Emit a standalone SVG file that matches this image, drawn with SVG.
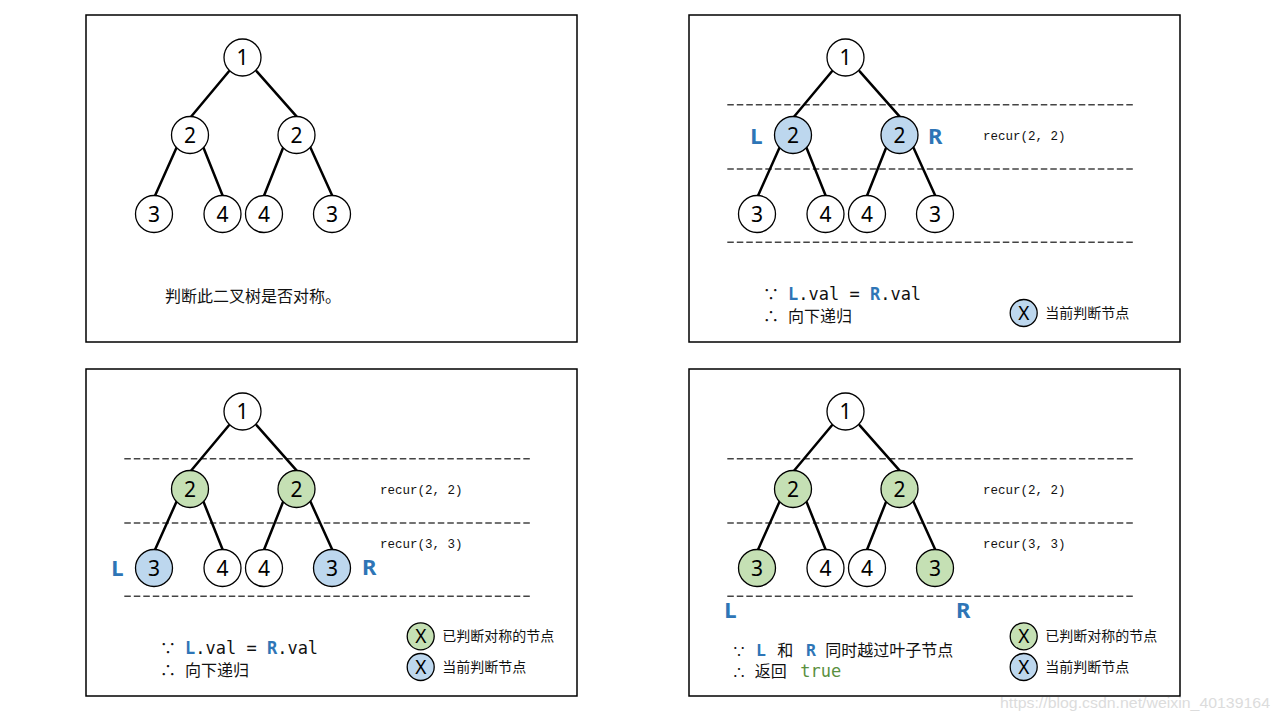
<svg xmlns="http://www.w3.org/2000/svg" width="1280" height="720" viewBox="0 0 1280 720">
<style>
.panel{fill:#fff;stroke:#000;stroke-width:1.5}
.edge{stroke:#000;stroke-width:2.5;stroke-linecap:round}
.dash{stroke:#444;stroke-width:1.5;stroke-dasharray:6.5 3}
.nd{stroke:#000;stroke-width:1.3}
.w{fill:#fff}.b{fill:#BDD7EE}.g{fill:#C5E0B4}
.num{font-family:"Noto Sans","Open Sans",sans-serif;font-size:21px;fill:#000;text-anchor:middle}
.lr{font-family:"Noto Sans","Open Sans",sans-serif;font-size:22px;font-weight:bold;fill:#2E75B6;text-anchor:middle}
.rec{font-family:"Liberation Mono",monospace;font-size:12.5px;fill:#111}
.zh{font-family:"Noto Sans CJK SC",sans-serif;font-size:16px;fill:#111}
.lg{font-family:"Noto Sans CJK SC",sans-serif;font-size:14px;fill:#111}
.code{font-family:"DejaVu Sans Mono",monospace;font-size:17px;fill:#111}
.cb{font-weight:bold;fill:#2E75B6}
.tr{fill:#5B9040}
.wm{font-family:"Liberation Sans",Arial,sans-serif;font-size:15px;fill:#dcdcdc}
</style>
<rect width="1280" height="720" fill="#fff"/>

<!-- Panel 1 -->
<g id="panel1">
<rect class="panel" x="86" y="15" width="491" height="327"/>
<g id="p1-connectors">
<line class="edge" x1="229" y1="71.3" x2="191" y2="116.7"/>
<line class="edge" x1="256.7" y1="71.3" x2="296.7" y2="116.7"/>
<line class="edge" x1="176.7" y1="147.3" x2="155" y2="195.7"/>
<line class="edge" x1="203.3" y1="147.3" x2="222.7" y2="195.7"/>
<line class="edge" x1="283.3" y1="147.3" x2="264" y2="195.7"/>
<line class="edge" x1="310.3" y1="147.3" x2="332.3" y2="195.7"/>
</g>
<g id="p1-n1"><circle class="nd w" cx="242.5" cy="57.5" r="18.5"/><text class="num" x="242.5" y="65">1</text></g>
<g id="p1-n2l"><circle class="nd w" cx="190" cy="135" r="18.5"/><text class="num" x="190" y="142.5">2</text></g>
<g id="p1-n2r"><circle class="nd w" cx="296.5" cy="135" r="18.5"/><text class="num" x="296.5" y="142.5">2</text></g>
<g id="p1-n3l"><circle class="nd w" cx="154" cy="214" r="18.5"/><text class="num" x="154" y="221.5">3</text></g>
<g id="p1-n4l"><circle class="nd w" cx="222.5" cy="214" r="18.5"/><text class="num" x="222.5" y="221.5">4</text></g>
<g id="p1-n4r"><circle class="nd w" cx="264" cy="214" r="18.5"/><text class="num" x="264" y="221.5">4</text></g>
<g id="p1-n3r"><circle class="nd w" cx="332" cy="214" r="18.5"/><text class="num" x="332" y="221.5">3</text></g>
<text class="zh" x="165" y="301.5">判断此二叉树是否对称。</text>
</g>

<!-- Panel 2 -->
<g id="panel2" transform="translate(603,0)">
<rect class="panel" x="86" y="15" width="491" height="327"/>
<line class="dash" x1="124.3" y1="104.7" x2="531" y2="104.7"/>
<line class="dash" x1="124.3" y1="169" x2="531" y2="169"/>
<line class="dash" x1="124.3" y1="242.3" x2="531" y2="242.3"/>
<g id="p2-connectors">
<line class="edge" x1="229" y1="71.3" x2="191" y2="116.7"/>
<line class="edge" x1="256.7" y1="71.3" x2="296.7" y2="116.7"/>
<line class="edge" x1="176.7" y1="147.3" x2="155" y2="195.7"/>
<line class="edge" x1="203.3" y1="147.3" x2="222.7" y2="195.7"/>
<line class="edge" x1="283.3" y1="147.3" x2="264" y2="195.7"/>
<line class="edge" x1="310.3" y1="147.3" x2="332.3" y2="195.7"/>
</g>
<g id="p2-n1"><circle class="nd w" cx="242.5" cy="57.5" r="18.5"/><text class="num" x="242.5" y="65">1</text></g>
<g id="p2-n2l"><circle class="nd b" cx="190" cy="135" r="18.5"/><text class="num" x="190" y="142.5">2</text></g>
<g id="p2-n2r"><circle class="nd b" cx="296.5" cy="135" r="18.5"/><text class="num" x="296.5" y="142.5">2</text></g>
<g id="p2-n3l"><circle class="nd w" cx="154" cy="214" r="18.5"/><text class="num" x="154" y="221.5">3</text></g>
<g id="p2-n4l"><circle class="nd w" cx="222.5" cy="214" r="18.5"/><text class="num" x="222.5" y="221.5">4</text></g>
<g id="p2-n4r"><circle class="nd w" cx="264" cy="214" r="18.5"/><text class="num" x="264" y="221.5">4</text></g>
<g id="p2-n3r"><circle class="nd w" cx="332" cy="214" r="18.5"/><text class="num" x="332" y="221.5">3</text></g>
<text class="lr" x="153.3" y="143.5">L</text>
<text class="lr" x="332.3" y="143.5">R</text>
<text class="rec" x="380" y="140">recur(2, 2)</text>
<text class="zh" x="160" y="300">∵</text>
<text class="code" x="185" y="300"><tspan class="cb">L</tspan>.val = <tspan class="cb">R</tspan>.val</text>
<text class="zh" x="160" y="321.5">∴</text>
<text class="zh" x="185" y="321.5">向下递归</text>
<g id="p2-legend-cur"><circle class="nd b" cx="420.7" cy="313" r="13.5"/><text class="num" x="420.7" y="320" style="font-size:19px">X</text></g>
<text class="lg" x="442.3" y="318">当前判断节点</text>
</g>

<!-- Panel 3 -->
<g id="panel3" transform="translate(0,354)">
<rect class="panel" x="86" y="15" width="491" height="327"/>
<line class="dash" x1="124.3" y1="104.7" x2="531" y2="104.7"/>
<line class="dash" x1="124.3" y1="169" x2="531" y2="169"/>
<line class="dash" x1="124.3" y1="242.3" x2="531" y2="242.3"/>
<g id="p3-connectors">
<line class="edge" x1="229" y1="71.3" x2="191" y2="116.7"/>
<line class="edge" x1="256.7" y1="71.3" x2="296.7" y2="116.7"/>
<line class="edge" x1="176.7" y1="147.3" x2="155" y2="195.7"/>
<line class="edge" x1="203.3" y1="147.3" x2="222.7" y2="195.7"/>
<line class="edge" x1="283.3" y1="147.3" x2="264" y2="195.7"/>
<line class="edge" x1="310.3" y1="147.3" x2="332.3" y2="195.7"/>
</g>
<g id="p3-n1"><circle class="nd w" cx="242.5" cy="57.5" r="18.5"/><text class="num" x="242.5" y="65">1</text></g>
<g id="p3-n2l"><circle class="nd g" cx="190" cy="135" r="18.5"/><text class="num" x="190" y="142.5">2</text></g>
<g id="p3-n2r"><circle class="nd g" cx="296.5" cy="135" r="18.5"/><text class="num" x="296.5" y="142.5">2</text></g>
<g id="p3-n3l"><circle class="nd b" cx="154" cy="214" r="18.5"/><text class="num" x="154" y="221.5">3</text></g>
<g id="p3-n4l"><circle class="nd w" cx="222.5" cy="214" r="18.5"/><text class="num" x="222.5" y="221.5">4</text></g>
<g id="p3-n4r"><circle class="nd w" cx="264" cy="214" r="18.5"/><text class="num" x="264" y="221.5">4</text></g>
<g id="p3-n3r"><circle class="nd b" cx="332" cy="214" r="18.5"/><text class="num" x="332" y="221.5">3</text></g>
<text class="lr" x="117.3" y="221.8">L</text>
<text class="lr" x="369.3" y="220.8">R</text>
<text class="rec" x="380" y="140">recur(2, 2)</text>
<text class="rec" x="380" y="194">recur(3, 3)</text>
<text class="zh" x="160" y="300">∵</text>
<text class="code" x="185" y="300"><tspan class="cb">L</tspan>.val = <tspan class="cb">R</tspan>.val</text>
<text class="zh" x="160" y="321.5">∴</text>
<text class="zh" x="185" y="321.5">向下递归</text>
<g id="p3-legend-done"><circle class="nd g" cx="420.7" cy="282.3" r="13.5"/><text class="num" x="420.7" y="289.3" style="font-size:19px">X</text></g>
<text class="lg" x="442.3" y="287.3">已判断对称的节点</text>
<g id="p3-legend-cur"><circle class="nd b" cx="420.7" cy="313" r="13.5"/><text class="num" x="420.7" y="320" style="font-size:19px">X</text></g>
<text class="lg" x="442.3" y="318">当前判断节点</text>
</g>

<!-- Panel 4 -->
<g id="panel4" transform="translate(603,354)">
<rect class="panel" x="86" y="15" width="491" height="327"/>
<line class="dash" x1="124.3" y1="104.7" x2="531" y2="104.7"/>
<line class="dash" x1="124.3" y1="169" x2="531" y2="169"/>
<line class="dash" x1="124.3" y1="242.3" x2="531" y2="242.3"/>
<g id="p4-connectors">
<line class="edge" x1="229" y1="71.3" x2="191" y2="116.7"/>
<line class="edge" x1="256.7" y1="71.3" x2="296.7" y2="116.7"/>
<line class="edge" x1="176.7" y1="147.3" x2="155" y2="195.7"/>
<line class="edge" x1="203.3" y1="147.3" x2="222.7" y2="195.7"/>
<line class="edge" x1="283.3" y1="147.3" x2="264" y2="195.7"/>
<line class="edge" x1="310.3" y1="147.3" x2="332.3" y2="195.7"/>
</g>
<g id="p4-n1"><circle class="nd w" cx="242.5" cy="57.5" r="18.5"/><text class="num" x="242.5" y="65">1</text></g>
<g id="p4-n2l"><circle class="nd g" cx="190" cy="135" r="18.5"/><text class="num" x="190" y="142.5">2</text></g>
<g id="p4-n2r"><circle class="nd g" cx="296.5" cy="135" r="18.5"/><text class="num" x="296.5" y="142.5">2</text></g>
<g id="p4-n3l"><circle class="nd g" cx="154" cy="214" r="18.5"/><text class="num" x="154" y="221.5">3</text></g>
<g id="p4-n4l"><circle class="nd w" cx="222.5" cy="214" r="18.5"/><text class="num" x="222.5" y="221.5">4</text></g>
<g id="p4-n4r"><circle class="nd w" cx="264" cy="214" r="18.5"/><text class="num" x="264" y="221.5">4</text></g>
<g id="p4-n3r"><circle class="nd g" cx="332" cy="214" r="18.5"/><text class="num" x="332" y="221.5">3</text></g>
<text class="lr" x="127.3" y="264">L</text>
<text class="lr" x="360.3" y="264">R</text>
<text class="rec" x="380" y="140">recur(2, 2)</text>
<text class="rec" x="380" y="194">recur(3, 3)</text>
<text class="zh" x="129" y="302" style="font-size:14px">∵</text>
<text class="code cb" x="153" y="302" style="font-size:16.5px">L</text>
<text class="zh" x="174.3" y="302">和</text>
<text class="code cb" x="203" y="302" style="font-size:16.5px">R</text>
<text class="zh" x="222.3" y="302">同时越过叶子节点</text>
<text class="zh" x="129" y="323" style="font-size:14px">∴</text>
<text class="zh" x="151.7" y="323">返回</text>
<text class="code tr" x="197.3" y="323">true</text>
<g id="p4-legend-done"><circle class="nd g" cx="420.7" cy="282.3" r="13.5"/><text class="num" x="420.7" y="289.3" style="font-size:19px">X</text></g>
<text class="lg" x="442.3" y="287.3">已判断对称的节点</text>
<g id="p4-legend-cur"><circle class="nd b" cx="420.7" cy="313" r="13.5"/><text class="num" x="420.7" y="320" style="font-size:19px">X</text></g>
<text class="lg" x="442.3" y="318">当前判断节点</text>
</g>

<text class="wm" x="1000" y="708" textLength="270" lengthAdjust="spacingAndGlyphs">https://blog.csdn.net/weixin_40139164</text>
</svg>
